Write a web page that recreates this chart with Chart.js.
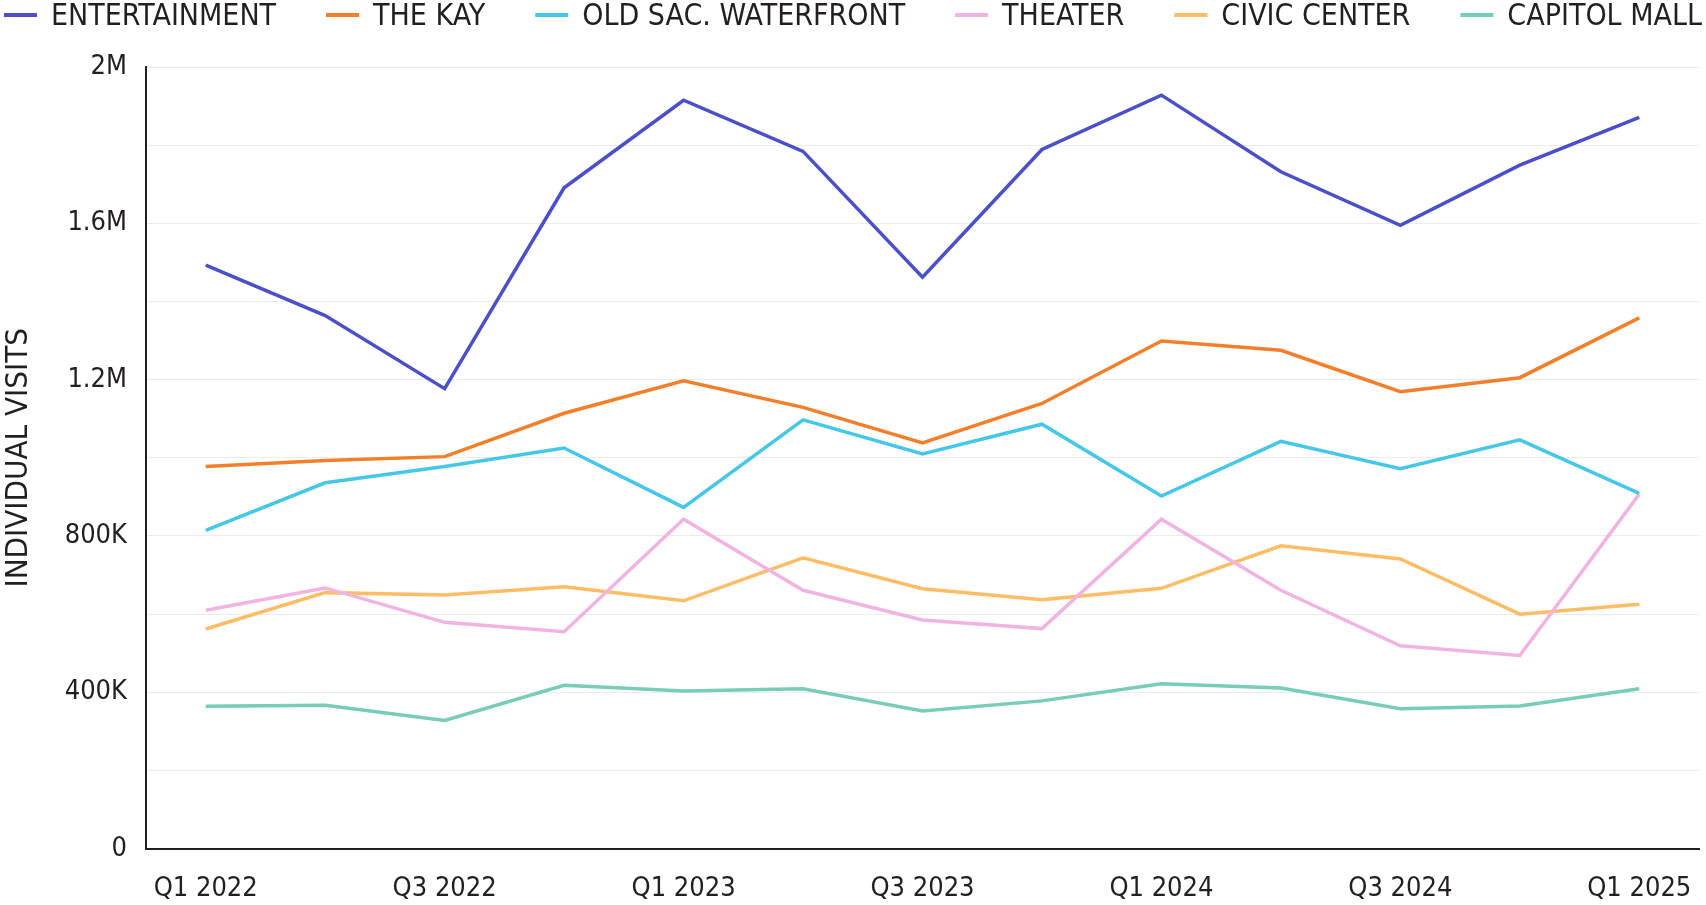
<!DOCTYPE html>
<html>
<head>
<meta charset="utf-8">
<style>
  html, body { margin: 0; padding: 0; background: #fff; }
  #wrap { width: 1706px; height: 905px; }
</style>
<script src="https://cdn.jsdelivr.net/npm/chart.js@4"></script>
</head>
<body>
<div id="wrap"><canvas id="visits" width="1706" height="905"></canvas></div>
<script>
const quarters = ['Q1 2022', 'Q2 2022', 'Q3 2022', 'Q4 2022', 'Q1 2023', 'Q2 2023', 'Q3 2023',
    'Q4 2023', 'Q1 2024', 'Q2 2024', 'Q3 2024', 'Q4 2024', 'Q1 2025'];

const entertainment = [1493000, 1364000, 1177000, 1691000, 1915000, 1784000, 1462000, 1789000, 1928000, 1732000, 1595000, 1749000, 1871000];
const theKay = [978000, 993000, 1003000, 1114000, 1197000, 1129000, 1038000, 1139000, 1299000, 1275000, 1169000, 1205000, 1358000];
const oldSac = [814000, 936000, 978000, 1025000, 873000, 1097000, 1010000, 1086000, 902000, 1042000, 972000, 1046000, 909000];
const theater = [610000, 667000, 579000, 555000, 843000, 661000, 585000, 563000, 843000, 661000, 519000, 494000, 907000];
const civicCenter = [562000, 655000, 649000, 670000, 634000, 744000, 665000, 637000, 666000, 775000, 741000, 600000, 625000];
const capitolMall = [364000, 367000, 328000, 418000, 403000, 409000, 352000, 378000, 422000, 411000, 358000, 365000, 409000];

const seriesNames = ['ENTERTAINMENT', 'THE KAY', 'OLD SAC. WATERFRONT', 'THEATER', 'CIVIC CENTER', 'CAPITOL MALL'];
const seriesColors = ['#4b4fc9', '#f47f2a', '#45c8e8', '#f0b3e2', '#fdbd66', '#77cdb8'];

const yTickValues = [0, 400000, 800000, 1200000, 1600000, 2000000];
const yTickLabels = ['0', '400K', '800K', '1.2M', '1.6M', '2M'];

const FONT = '"DejaVu Sans Condensed", "Liberation Sans", sans-serif';
const INK = '#231f20';

// legend drawn at the top, line marker + label, centred on the canvas
const lineLegend = {
    id: 'lineLegend',
    afterDraw(chart) {
        const ctx = chart.ctx;
        ctx.save();
        ctx.font = '30px ' + FONT;
        ctx.textBaseline = 'middle';
        const items = chart.data.datasets.map(ds => ({
            text: ds.label,
            color: ds.borderColor,
            w: ctx.measureText(ds.label).width
        }));
        const total = items.reduce((s, it) => s + 47 + it.w, 0) + 50 * (items.length - 1);
        let x = (chart.width - total) / 2;
        items.forEach(it => {
            ctx.strokeStyle = it.color;
            ctx.lineWidth = 4;
            ctx.beginPath();
            ctx.moveTo(x, 15);
            ctx.lineTo(x + 33, 15);
            ctx.stroke();
            ctx.fillStyle = INK;
            ctx.fillText(it.text, x + 47, 17);
            x += 47 + it.w + 50;
        });
        ctx.restore();
    }
};

const allSeries = [entertainment, theKay, oldSac, theater, civicCenter, capitolMall];

const data = {
    labels: quarters,
    datasets: allSeries.map((values, i) => ({
        label: seriesNames[i],
        data: values,
        borderColor: seriesColors[i],
        backgroundColor: seriesColors[i],
        borderWidth: 3.5,
        pointRadius: 0,
        tension: 0
    }))
};

const config = {
    type: 'line',
    data: data,
    options: {
        responsive: false,
        animation: false,
        layout: {
            padding: { top: 67, right: 7, bottom: -24, left: 0 }
        },
        plugins: {
            legend: { display: false },
            tooltip: { enabled: false }
        },
        scales: {
            x: {
                offset: true,
                afterFit: function (scale) { scale.paddingLeft = 0; scale.paddingRight = 0; },
                grid: { display: false, drawTicks: false },
                border: { display: true, color: INK, width: 2 },
                ticks: {
                    autoSkip: false,
                    maxRotation: 0,
                    padding: 24,
                    color: INK,
                    font: { family: FONT, size: 27 },
                    callback: function (value, index) {
                        return index % 2 === 0 ? quarters[index] : '';
                    }
                }
            },
            y: {
                min: 0,
                max: 2000000,
                afterFit: function (scale) { scale.width = 146; },
                grid: { color: '#ececec', lineWidth: 1, drawTicks: false },
                border: { display: true, color: INK, width: 2 },
                ticks: {
                    stepSize: 200000,
                    padding: 19,
                    color: INK,
                    font: { family: FONT, size: 27 },
                    callback: function (value) {
                        const k = yTickValues.indexOf(value);
                        return k >= 0 ? yTickLabels[k] : '';
                    }
                },
                title: {
                    display: true,
                    text: 'INDIVIDUAL VISITS',
                    color: INK,
                    padding: 0,
                    font: { family: FONT, size: 31 }
                }
            }
        }
    },
    plugins: [lineLegend]
};

new Chart(document.getElementById('visits').getContext('2d'), config);
</script>
</body>
</html>
